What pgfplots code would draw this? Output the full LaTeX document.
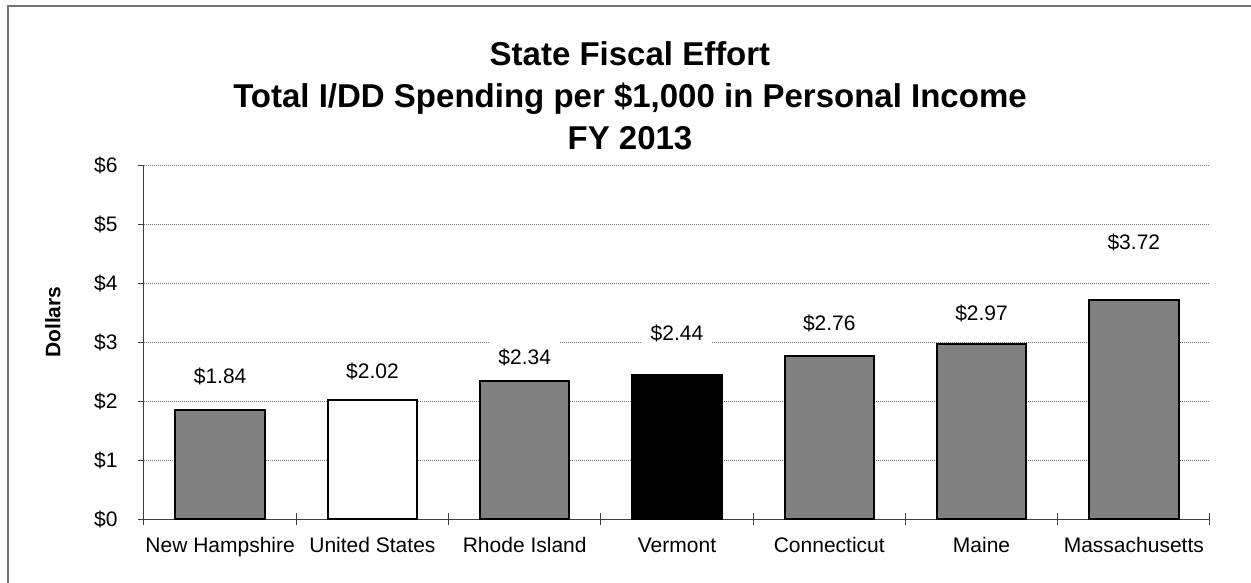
\documentclass[border=0pt]{standalone}
\usepackage{fontspec}
\setmainfont{Liberation Sans}
\usepackage{pgfplots}
\pgfplotsset{compat=1.18}

\begin{document}
\begin{tikzpicture}
\useasboundingbox (-144pt,-63pt) rectangle (1107pt,519pt);
% outer chart frame (only top and left edges are inside the picture)
\draw[black!55, line width=1.5pt] (-136pt,-80pt) -- (-136pt,513pt) -- (1130pt,513pt);
\begin{axis}[
  at={(0,0)}, anchor=south west,
  scale only axis, width=1066pt, height=354pt,
  xmin=-0.5, xmax=6.5, ymin=0, ymax=6,
  axis x line*=bottom, axis y line*=left,
  axis line style={-, black!75, line width=1pt},
  ytick={0,...,6},
  yticklabels={\$0,\$1,\$2,\$3,\$4,\$5,\$6},
  xtick={0,...,6},
  xticklabels={New Hampshire,United States,Rhode Island,Vermont,Connecticut,Maine,Massachusetts},
  minor xtick={-0.5,0.5,1.5,2.5,3.5,4.5,5.5,6.5},
  tick align=outside,
  major tick length=6pt, minor tick length=12pt,
  major x tick style={draw=none},
  minor x tick style={yshift=6pt},
  tick style={black!75, line width=1pt},
  ymajorgrids,
  major grid style={black!55, line width=0.8pt, dash pattern=on 1pt off 1pt},
  tick label style={font=\fontsize{21}{25}\selectfont},
  yticklabel style={anchor=east, xshift=-17pt},
  xticklabel style={anchor=base, yshift=-27pt},
  title={State Fiscal Effort\\Total I/DD Spending per \$1,000 in Personal Income\\FY 2013},
  title style={at={(axis description cs:0.4559,1.178)}, anchor=center, align=center,
    font=\bfseries\fontsize{33}{42}\selectfont},
  ylabel={Dollars},
  ylabel style={at={(axis description cs:-0.0854,0.556)}, anchor=center,
    font=\bfseries\fontsize{21}{25}\selectfont},
]
\addplot[ybar, bar width=89.5pt, bar shift=0pt, fill=black!50, draw=black, line width=2pt]
  coordinates {(0,1.84) (2,2.34) (4,2.76) (5,2.97) (6,3.72)};
\addplot[ybar, bar width=89.5pt, bar shift=0pt, fill=white, draw=black, line width=2pt]
  coordinates {(1,2.02)};
\addplot[ybar, bar width=89.5pt, bar shift=0pt, fill=black, draw=black, line width=2pt]
  coordinates {(3,2.44)};
% value labels, placed by hand as in the source chart
\addplot[draw=none, mark=none, nodes near coords, point meta=explicit symbolic,
  every node near coord/.append style={anchor=center, fill=white, inner xsep=9pt, inner ysep=9pt,
    font=\fontsize{21}{25}\selectfont}]
  coordinates {(0,2.41)[\$1.84] (1,2.50)[\$2.02] (2,2.74)[\$2.34] (3,3.15)[\$2.44]
    (4,3.32)[\$2.76] (5,3.49)[\$2.97] (6,4.69)[\$3.72]};
\end{axis}
\end{tikzpicture}
\end{document}
